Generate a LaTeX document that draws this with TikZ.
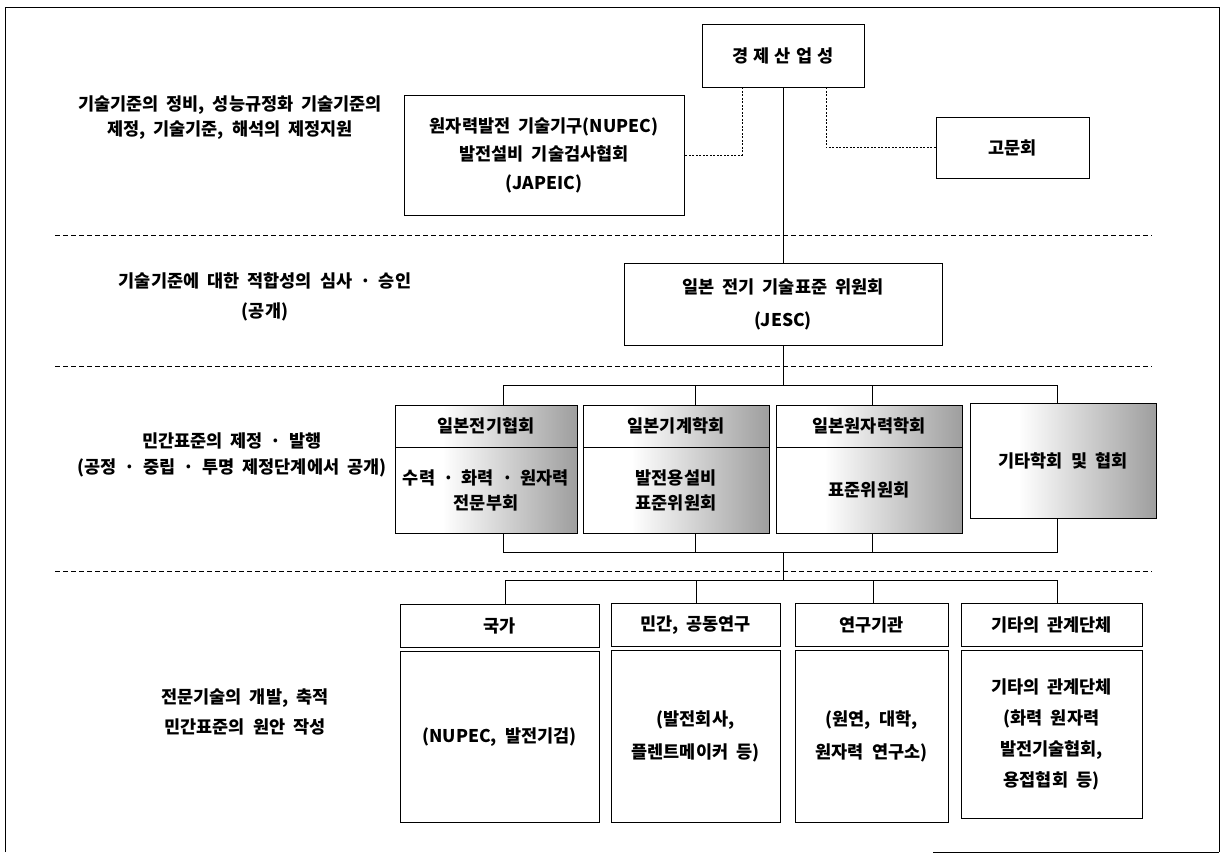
\documentclass[tikz,border=0pt]{standalone}
\usepackage{fontspec}
\setmainfont{Noto Sans CJK KR}[WordSpace=2]
\definecolor{shgray}{gray}{0.62}
\pgfdeclarehorizontalshading{fadegray}{100bp}{color(0bp)=(white); color(25bp)=(white); color(38bp)=(white); color(75bp)=(shgray); color(100bp)=(shgray)}
\newcommand{\fs}[1]{\fontsize{17.5}{#1}\selectfont\bfseries}
\newcommand{\hd}[1]{\raisebox{-4pt}{#1}}
\tikzset{
  every node/.style={font=\fs{24}},
  box/.style={draw, line width=0.9pt, fill=white, inner sep=0pt, align=center},
  sbox/.style={box, shade, shading=fadegray},
  conn/.style={line width=0.9pt},
  dotc/.style={line width=0.7pt, dash pattern=on 2pt off 1.5pt},
  sepline/.style={line width=0.7pt, dash pattern=on 5pt off 3pt},
  lbl/.style={align=center, inner sep=0pt},
}
\begin{document}
\begin{tikzpicture}[x=1pt, y=-1pt]
\useasboundingbox (0,0) rectangle (1221,853);
% outer frame
\draw[line width=0.9pt] (5,852) -- (5,7) -- (1219,7) -- (1219,852);
\draw[line width=0.9pt] (933,852) -- (1219,852);
% separators
\draw[sepline] (55,235) -- (1152,235);
\draw[sepline] (55,366) -- (1152,366);
\draw[sepline] (55,571) -- (1152,571);

% left labels
\node[lbl, font=\fs{25}] (l1) at (230,118) {기술기준의 정비, 성능규정화 기술기준의\\제정, 기술기준, 해석의 제정지원};
\node[lbl, font=\fs{30}] (l2) at (265,297) {기술기준에 대한 적합성의 심사 · 승인\\(공개)};
\node[lbl, font=\fs{26}] (l3) at (232,455) {민간표준의 제정 · 발행\\(공정 · 중립 · 투명 제정단계에서 공개)};
\node[lbl, font=\fs{30}] (l4) at (245,712) {전문기술의 개발, 축적\\민간표준의 원안 작성};

% row 1
\node[box, minimum width=162, minimum height=63] (meti) at (783,55.5) {경\hspace{5pt}제\hspace{5pt}산\hspace{5pt}업\hspace{5pt}성};
\node[box, minimum width=280, minimum height=120, font=\fs{28.5}] (nupec) at (544,155) {원자력발전 기술기구(NUPEC)\\발전설비 기술검사협회\\(JAPEIC)};
\node[box, minimum width=153, minimum height=61] (gomun) at (1012.5,147.5) {고문회};
\coordinate (m1) at (742,0);
\coordinate (m2) at (826,0);
\draw[dotc] (meti.south -| m1) |- (nupec.east);
\draw[dotc] (meti.south -| m2) |- (gomun.west);

% row 2
\node[box, minimum width=318, minimum height=82, font=\fs{33}] (jesc) at (783,304) {일본 전기 기술표준 위원회\\(JESC)};
\draw[conn] (meti.south) -- (jesc.north);

% row 3
\node[sbox, minimum width=182, minimum height=42] (aH) at (486,426) {\hd{일본전기협회}};
\node[sbox, minimum width=182, minimum height=86, font=\fs{25}] (aB) at (486,490) {수력 · 화력 · 원자력\\전문부회};
\node[sbox, minimum width=186, minimum height=42] (bH) at (676,426) {\hd{일본기계학회}};
\node[sbox, minimum width=186, minimum height=86, font=\fs{25}] (bB) at (676,490) {발전용설비\\표준위원회};
\node[sbox, minimum width=186, minimum height=42] (cH) at (869,426) {\hd{일본원자력학회}};
\node[sbox, minimum width=186, minimum height=86] (cB) at (869,490) {표준위원회};
\node[sbox, minimum width=186, minimum height=115] (dD) at (1063,460.5) {기타학회 및 협회};

\coordinate (ta) at (503,385);
\coordinate (tb) at (695,385);
\coordinate (tc) at (872,385);
\coordinate (td) at (1057,385);
\draw[conn] (jesc.south) -- (jesc.south |- ta);
\draw[conn] (ta |- aH.north) -- (ta) -- (td) -- (td |- dD.north);
\draw[conn] (tb) -- (tb |- bH.north);
\draw[conn] (tc) -- (tc |- cH.north);

\coordinate (ba) at (503,552);
\coordinate (bb) at (695,552);
\coordinate (bc) at (872,552);
\coordinate (bd) at (1057,552);
\draw[conn] (ba |- aB.south) -- (ba) -- (bd) -- (bd |- dD.south);
\draw[conn] (bb |- bB.south) -- (bb);
\draw[conn] (bc |- cB.south) -- (bc);

% row 4
\node[box, minimum width=199, minimum height=43] (kH) at (499.5,626) {국가};
\node[box, minimum width=199, minimum height=171] (kB) at (499.5,737) {(NUPEC, 발전기검)};
\node[box, minimum width=169, minimum height=43] (pH) at (695.5,625) {민간, 공동연구};
\node[box, minimum width=169, minimum height=172, font=\fs{33}] (pB) at (695.5,736) {(발전회사,\\플렌트메이커 등)};
\node[box, minimum width=153, minimum height=43] (rH) at (871.5,625) {연구기관};
\node[box, minimum width=153, minimum height=172, font=\fs{33}] (rB) at (871.5,736) {(원연, 대학,\\원자력 연구소)};
\node[box, minimum width=181, minimum height=43] (oH) at (1051.5,625) {기타의 관계단체};
\node[box, minimum width=181, minimum height=168, font=\fs{31}] (oB) at (1051.5,734) {기타의 관계단체\\(화력 원자력\\발전기술협회,\\용접협회 등)};

\coordinate (ra) at (505,580);
\coordinate (rb) at (696,580);
\coordinate (rc) at (873,580);
\coordinate (rd) at (1057,580);
\draw[conn] (jesc.south |- ba) -- (jesc.south |- ra);
\draw[conn] (ra |- kH.north) -- (ra) -- (rd) -- (rd |- oH.north);
\draw[conn] (rb) -- (rb |- pH.north);
\draw[conn] (rc) -- (rc |- rH.north);
\end{tikzpicture}
\end{document}
